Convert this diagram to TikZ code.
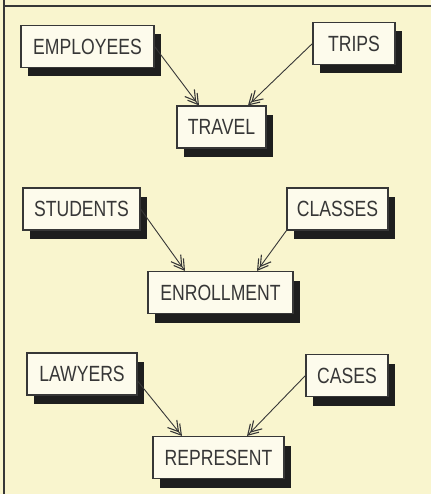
\documentclass[tikz,border=0pt]{standalone}
\usepackage{fontspec}
\setmainfont{Liberation Sans}[FakeStretch=0.8]
\usepackage{tikz}
\usetikzlibrary{arrows.meta,shadows}
\definecolor{paper}{RGB}{249,245,206}
\definecolor{boxfill}{RGB}{253,251,236}
\definecolor{ink}{RGB}{55,55,55}
\definecolor{shade}{RGB}{30,30,30}
\tikzset{entity/.style={draw=ink, fill=boxfill, text=ink, line width=1.1pt,
            minimum height=42pt, inner sep=0pt, font=\fontsize{22}{22}\selectfont,
            drop shadow={shadow xshift=7pt, shadow yshift=-9pt, fill=shade, opacity=1}},
         link/.style={->, draw=ink, line width=0.9pt}}

\begin{document}
\begin{tikzpicture}[x=1pt, y=-1pt, >={Straight Barb[length=10pt,width=12pt,line width=1.1pt,sep=-7pt]Straight Barb[length=10pt,width=12pt,line width=1.1pt]}]
      \fill[paper] (0, 0) rectangle (431, 494);
      \useasboundingbox (0, 0) rectangle (431, 494);
      \draw[ink, line width=1.6pt] (4, 0) -- (4, 494);
      \draw[ink, line width=1.6pt] (4, 6) -- (431, 6);
      % travel
      \node[entity, minimum width=133pt] (employees) at (87.5, 46.5) {EMPLOYEES};
      \node[entity, minimum width=82pt] (trips) at (354, 43.5) {TRIPS};
      \node[entity, minimum width=89pt] (travel) at (221.5, 127) {TRAVEL};
      \draw[link] (employees.east) -- ([xshift=-22.5pt]travel.north);
      \draw[link] (trips.west) -- ([xshift=26.5pt]travel.north);
      % enrollment
      \node[entity, minimum width=117pt] (students) at (81.5, 209) {STUDENTS};
      \node[entity, minimum width=101pt] (classes) at (337.5, 209) {CLASSES};
      \node[entity, minimum width=145pt] (enrollment) at (220.5, 292.5) {ENROLLMENT};
      \draw[link] (students.east) -- ([xshift=-35.5pt]enrollment.north);
      \draw[link] (classes.south west) -- ([xshift=36.5pt]enrollment.north);
      % represent
      \node[entity, minimum width=110pt] (lawyers) at (82, 374) {LAWYERS};
      \node[entity, minimum width=82pt] (cases) at (347, 375.5) {CASES};
      \node[entity, minimum width=131pt] (represent) at (218.5, 457.5) {REPRESENT};
      \draw[link] ([yshift=-7pt]lawyers.east) -- ([xshift=-36.5pt]represent.north);
      \draw[link] (cases.west) -- ([xshift=28.5pt]represent.north);
    \end{tikzpicture}
\end{document}
